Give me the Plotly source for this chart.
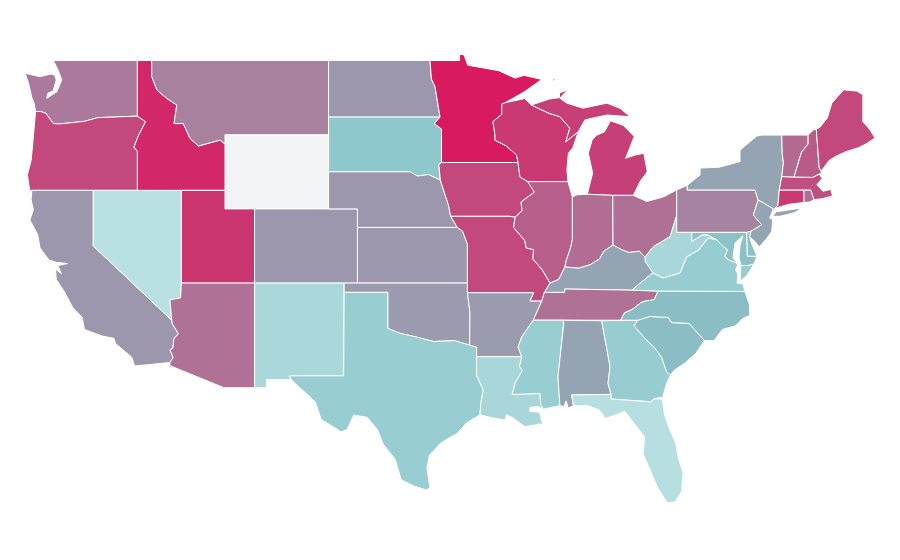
import plotly.graph_objects as go
from plotly.colors import sample_colorscale

# state outlines as (lon, lat) (no topojson available offline)
WA = [(-122.6, 49), (-122.28, 48.49), (-122.03, 47.95), (-122.35, 47.32), (-123.05, 46.96), (-122.95, 47.25), (-122.62, 47.35),
      (-122.4, 47.95), (-122.5, 48.2), (-122.75, 48.27), (-123.5, 48.13), (-124.51, 48.31), (-124.3, 47.85), (-124.05, 47.0),
      (-123.9, 46.7), (-123.8, 46.25), (-123.45, 46.25), (-123.1, 46.15), (-122.85, 45.85), (-122.6, 45.6), (-122.2, 45.58),
      (-121.2, 45.65), (-120.5, 45.72), (-119.6, 45.92), (-119.0, 45.93), (-116.92, 46.0), (-116.92, 49)]
OR = [(-123.8, 46.25), (-123.45, 46.25), (-123.1, 46.15), (-122.85, 45.85), (-122.6, 45.6), (-122.2, 45.58), (-121.2, 45.65),
      (-120.5, 45.72), (-119.6, 45.92), (-119.0, 45.93), (-116.92, 46.0), (-116.36, 45.7), (-116.85, 44.95), (-117.15, 44.33),
      (-116.92, 44.1), (-116.92, 42), (-119.9, 42), (-124.2, 42), (-124.35, 42.85), (-124.1, 43.6), (-123.97, 44.7), (-123.9, 45.6)]
CA = [(-124.05, 42), (-119.9, 42), (-119.9, 39), (-114.6, 35.0), (-114.55, 34.8), (-114.15, 34.27), (-114.45, 34.0),
      (-114.52, 33.5), (-114.72, 33.4), (-114.5, 33.0), (-114.72, 32.72), (-117.1, 32.53), (-117.3, 33.0), (-118.4, 33.75),
      (-118.5, 34.02), (-119.3, 34.15), (-120.5, 34.5), (-120.65, 35.15), (-121.3, 35.7), (-121.9, 36.6), (-122.4, 37.2),
      (-122.45, 37.75), (-122.05, 37.5), (-122.3, 37.95), (-121.65, 38.05), (-122.4, 38.12), (-122.9, 38.25), (-123.5, 38.9),
      (-123.65, 39.6), (-124.18, 40.4), (-123.95, 40.95), (-124.1, 41.5)]
NV = [(-119.9, 42), (-113.95, 42), (-113.95, 36.95), (-114.0, 36.2), (-114.72, 36.1), (-114.6, 35.0), (-119.9, 39)]
ID = [(-116.92, 49), (-115.95, 49), (-115.95, 48.13), (-115.6, 47.41), (-114.94, 46.96), (-114.26, 46.6), (-114.44, 45.6),
      (-113.82, 45.6), (-113.36, 44.8), (-112.8, 44.39), (-111.34, 44.71), (-111.0, 44.5), (-111.0, 42), (-116.92, 42),
      (-116.92, 44.1), (-117.15, 44.33), (-116.85, 44.95), (-116.36, 45.7), (-116.92, 46.0)]
MT = [(-115.95, 49), (-104.0, 49), (-104.0, 45), (-111.0, 45), (-111.0, 44.5), (-111.34, 44.71), (-112.8, 44.39),
      (-113.36, 44.8), (-113.82, 45.6), (-114.44, 45.6), (-114.26, 46.6), (-114.94, 46.96), (-115.6, 47.41), (-115.95, 48.13)]
WY = [(-111.0, 45), (-104.0, 45), (-104.0, 41), (-111.0, 41)]
UT = [(-113.95, 42), (-111.0, 42), (-111.0, 41), (-109.0, 41), (-109.0, 37), (-113.95, 37)]
AZ = [(-113.95, 37), (-109.0, 37), (-109.0, 31.36), (-111.07, 31.36), (-114.72, 32.55), (-114.72, 32.72), (-114.5, 33.0),
      (-114.72, 33.4), (-114.52, 33.5), (-114.45, 34.0), (-114.15, 34.27), (-114.55, 34.8), (-114.6, 35.0), (-114.72, 36.1),
      (-114.0, 36.2)]
CO = [(-109.0, 41), (-102.05, 41), (-102.05, 37), (-109.0, 37)]
NM = [(-109.0, 37), (-102.95, 37), (-102.98, 32), (-106.62, 32), (-106.53, 31.8), (-108.2, 31.8), (-108.2, 31.36), (-109.0, 31.36)]
ND = [(-104.0, 49), (-97.15, 49), (-97.05, 48), (-96.81, 47.6), (-96.55, 46.3), (-96.47, 45.95), (-104.0, 45.95)]
SD = [(-104.0, 45.95), (-96.47, 45.95), (-96.85, 45.6), (-96.37, 45.3), (-96.37, 43.5), (-96.55, 43.4), (-96.45, 42.55),
      (-97.25, 42.85), (-98.0, 42.77), (-98.5, 43), (-104.0, 43)]
NE = [(-104.0, 43), (-98.5, 43), (-98.0, 42.77), (-97.25, 42.85), (-96.45, 42.55), (-96.1, 41.7), (-95.9, 41.2), (-95.75, 40.6),
      (-95.3, 40), (-102.05, 40), (-102.05, 41), (-104.0, 41)]
KS = [(-102.05, 40), (-95.3, 40), (-94.95, 39.8), (-94.62, 39.1), (-94.62, 37), (-102.05, 37)]
OK = [(-102.95, 37), (-94.62, 37), (-94.62, 36.5), (-94.45, 35.4), (-94.47, 33.65), (-95.5, 33.9), (-96.9, 33.85),
      (-98.1, 34.1), (-99.2, 34.3), (-100, 34.56), (-100, 36.5), (-102.95, 36.5)]
TX = [(-102.95, 36.5), (-100, 36.5), (-100, 34.56), (-99.2, 34.3), (-98.1, 34.1), (-96.9, 33.85), (-95.5, 33.9), (-94.47, 33.65),
      (-94.0, 33.55), (-94.0, 32.03), (-93.55, 31.24), (-93.72, 30.5), (-93.77, 29.9), (-94.7, 29.45), (-95.3, 28.9),
      (-96.4, 28.4), (-97.2, 27.7), (-97.35, 27.0), (-97.15, 25.96), (-97.4, 25.85), (-98.2, 26.05), (-99.1, 26.4), (-99.5, 27.5),
      (-100.3, 28.3), (-100.7, 29.1), (-101.4, 29.77), (-102.3, 29.88), (-102.76, 29.1), (-103.15, 28.98), (-104.5, 29.65),
      (-104.9, 30.6), (-106.0, 31.4), (-106.53, 31.8), (-106.62, 32), (-102.98, 32)]
MN = [(-97.15, 49), (-95.15, 49), (-95.15, 49.35), (-94.85, 49.3), (-94.6, 48.75), (-93.5, 48.6), (-92.5, 48.45), (-91.4, 48.05),
      (-90.8, 48.2), (-89.6, 47.98), (-90.8, 47.3), (-92.08, 46.72), (-92.3, 46.65), (-92.3, 46.1), (-92.9, 45.7), (-92.76, 45.0),
      (-92.76, 44.7), (-92.0, 44.4), (-91.3, 43.9), (-91.2, 43.5), (-96.37, 43.5), (-96.37, 45.3), (-96.85, 45.6), (-96.47, 45.95),
      (-96.55, 46.3), (-96.81, 47.6), (-97.05, 48)]
IA = [(-96.37, 43.5), (-91.2, 43.5), (-91.07, 42.72), (-90.39, 42.4), (-90.1, 41.9), (-91.0, 41.37), (-90.93, 40.9), (-91.4, 40.55),
      (-91.75, 40.6), (-95.75, 40.6), (-95.9, 41.2), (-96.1, 41.7), (-96.45, 42.55), (-96.55, 43.4)]
MO = [(-95.75, 40.6), (-91.75, 40.6), (-91.4, 40.55), (-91.5, 40), (-90.75, 39.3), (-90.65, 38.9), (-90.15, 38.8), (-90.2, 38.3),
      (-89.55, 37.7), (-89.04, 37.0), (-89.42, 36.5), (-89.6, 36.03), (-90.4, 36.03), (-90.15, 36.48), (-94.62, 36.48), (-94.62, 39.1),
      (-94.95, 39.8), (-95.3, 40)]
AR = [(-94.62, 36.48), (-90.15, 36.48), (-90.4, 36.03), (-89.6, 36.03), (-90.17, 35.0), (-90.95, 34.1), (-91.2, 33.56), (-90.95, 33.03),
      (-94.0, 33.03), (-94.0, 33.55), (-94.47, 33.65), (-94.45, 35.4)]
LA = [(-94.0, 33.03), (-90.95, 33.03), (-91.1, 32.5), (-90.9, 32.3), (-91.4, 31.6), (-91.6, 31.0), (-89.72, 31.05), (-89.67, 30.5),
      (-89.5, 30.2), (-89.85, 30.35), (-90.4, 30.3), (-90.4, 30.08), (-89.85, 30.05), (-89.72, 29.99), (-89.6, 29.53), (-89.15, 29.08),
      (-89.5, 29.4), (-89.9, 29.4), (-90.05, 29.35), (-90.73, 29.26), (-91.54, 29.73), (-91.97, 29.9), (-92.08, 29.62), (-92.9, 29.73),
      (-93.77, 29.9), (-93.72, 30.5), (-93.55, 31.24), (-94.0, 32.03)]
WI = [(-92.08, 46.72), (-91.2, 46.85), (-90.75, 46.95), (-90.3, 46.6), (-89.1, 46.15), (-88.37, 45.97), (-87.7, 45.35), (-87.97, 44.62),
      (-87.13, 45.16), (-87.5, 44.3), (-87.8, 44), (-87.9, 43.1), (-87.83, 42.47), (-90.55, 42.47), (-90.39, 42.4), (-91.07, 42.72),
      (-91.2, 43.5), (-91.3, 43.9), (-92.0, 44.4), (-92.76, 44.7), (-92.76, 45.0), (-92.9, 45.7), (-92.3, 46.1), (-92.3, 46.65)]
IL = [(-90.55, 42.47), (-87.83, 42.47), (-87.6, 41.85), (-87.53, 41.65), (-87.53, 39.35), (-87.65, 38.9), (-87.95, 38.2), (-88.03, 37.87),
      (-88.45, 37.2), (-89.04, 37.0), (-89.55, 37.7), (-90.2, 38.3), (-90.15, 38.8), (-90.65, 38.9), (-90.75, 39.3), (-91.5, 40),
      (-91.4, 40.55), (-90.93, 40.9), (-91.0, 41.37), (-90.1, 41.9)]
MI_UP = [(-90.3, 46.6), (-89.1, 46.92), (-88.4, 47.0), (-88.4, 47.25), (-87.85, 47.42), (-88.37, 46.97), (-87.9, 46.7), (-86.8, 46.43),
         (-85.2, 46.7), (-84.3, 46.42), (-83.63, 45.97), (-85.2, 46.06), (-86.68, 45.8), (-87.13, 45.16), (-87.97, 44.62), (-87.7, 45.35),
         (-88.37, 45.97), (-89.1, 46.15)]
MI_LP = [(-84.95, 45.75), (-84.08, 45.5), (-83.35, 44.9), (-83.63, 44.35), (-83.93, 43.73), (-83.3, 43.9), (-82.7, 44.0), (-82.47, 43.0),
         (-82.96, 42.47), (-83.41, 41.73), (-84.8, 41.73), (-86.52, 41.79), (-86.16, 42.93), (-86.45, 44.0), (-86.2, 44.7), (-85.9, 44.97),
         (-85.37, 45.15)]
MI_IR = [(-89.05, 47.9), (-88.65, 48.05), (-88.75, 47.92)]
IN = [(-87.53, 41.65), (-87.2, 41.76), (-86.52, 41.79), (-84.8, 41.73), (-84.78, 39.05), (-85.4, 38.72), (-85.7, 38.3), (-86.3, 38.0),
      (-87.1, 37.8), (-88.03, 37.87), (-87.95, 38.2), (-87.65, 38.9), (-87.53, 39.35)]
OH = [(-84.8, 41.73), (-83.41, 41.73), (-82.5, 41.4), (-81.4, 41.64), (-80.48, 42.02), (-80.48, 40.63), (-80.65, 40.2), (-80.93, 39.5),
      (-82.07, 38.96), (-82.62, 38.4), (-83.0, 38.72), (-83.7, 38.65), (-84.2, 38.8), (-84.78, 39.05)]
KY = [(-89.42, 36.5), (-88.05, 36.5), (-88.05, 36.68), (-83.5, 36.62), (-82.95, 37.0), (-82.08, 37.55), (-82.6, 38.17), (-82.62, 38.4),
      (-83.0, 38.72), (-83.7, 38.65), (-84.2, 38.8), (-84.78, 39.05), (-85.4, 38.72), (-85.7, 38.3), (-86.3, 38.0), (-87.1, 37.8),
      (-88.03, 37.87), (-88.45, 37.2), (-89.04, 37.0)]
TN = [(-90.17, 35.0), (-84.27, 35.0), (-84.0, 35.4), (-83.5, 35.57), (-82.9, 35.95), (-82.6, 36.03), (-82.0, 36.1), (-81.74, 36.57),
      (-83.5, 36.62), (-88.05, 36.68), (-88.05, 36.5), (-89.42, 36.5), (-89.6, 36.03)]
MS = [(-90.17, 35.0), (-88.2, 35.0), (-88.1, 34.9), (-88.5, 31.95), (-88.37, 30.4), (-89.5, 30.2), (-89.67, 30.5), (-89.72, 31.05),
      (-91.6, 31.0), (-91.4, 31.6), (-90.9, 32.3), (-91.1, 32.5), (-90.95, 33.03), (-91.2, 33.56), (-90.95, 34.1)]
AL = [(-88.2, 35.0), (-85.55, 34.97), (-84.98, 32.5), (-85.12, 31.6), (-84.92, 31.0), (-87.58, 30.97), (-87.45, 30.4), (-87.8, 30.25),
      (-87.95, 30.65), (-88.1, 30.35), (-88.37, 30.4), (-88.5, 31.95), (-88.1, 34.9)]
GA = [(-85.55, 34.97), (-83.1, 35.0), (-83.35, 34.7), (-82.6, 34.0), (-81.95, 33.5), (-81.5, 33.0), (-81.15, 32.2), (-80.9, 32.05),
      (-81.2, 31.5), (-81.45, 30.75), (-81.56, 30.85), (-82.05, 30.75), (-82.2, 30.6), (-84.92, 30.75), (-84.92, 31.0), (-85.12, 31.6),
      (-84.98, 32.5)]
FL = [(-87.58, 30.97), (-84.92, 31.0), (-84.92, 30.75), (-82.2, 30.6), (-82.05, 30.75), (-81.45, 30.75), (-81.3, 29.9), (-80.9, 29.0),
      (-80.55, 28.4), (-80.35, 27.5), (-80.05, 26.8), (-80.15, 25.75), (-80.6, 25.2), (-81.1, 25.15), (-81.75, 25.95), (-82.15, 26.7),
      (-82.75, 27.8), (-82.65, 28.7), (-83.4, 29.5), (-84.0, 30.1), (-84.4, 29.95), (-85.3, 29.7), (-85.7, 30.15), (-86.5, 30.4), (-87.45, 30.4)]
SC = [(-83.35, 34.7), (-83.1, 35.0), (-82.3, 35.2), (-81.05, 35.15), (-80.82, 34.87), (-79.65, 34.83), (-78.6, 33.9), (-79.2, 33.2),
      (-79.9, 32.7), (-80.65, 32.3), (-80.9, 32.05), (-81.15, 32.2), (-81.5, 33.0), (-81.95, 33.5), (-82.6, 34.0)]
NC = [(-84.27, 35.0), (-83.1, 35.0), (-82.3, 35.2), (-81.05, 35.15), (-80.82, 34.87), (-79.65, 34.83), (-78.6, 33.9), (-77.95, 33.9),
      (-77.4, 34.5), (-76.5, 34.7), (-76.0, 35.1), (-75.55, 35.25), (-75.55, 35.8), (-75.87, 36.55), (-81.74, 36.57), (-82.0, 36.1),
      (-82.6, 36.03), (-82.9, 35.95), (-83.5, 35.57), (-84.0, 35.4)]
VA = [(-83.5, 36.62), (-81.74, 36.57), (-75.87, 36.55), (-76.0, 36.95), (-76.4, 37.0), (-76.35, 37.5), (-76.5, 37.7), (-76.35, 38.05), (-76.95, 38.25),
      (-77.22, 38.42), (-77.05, 38.8), (-77.5, 39.1), (-77.8, 39.35), (-78.36, 39.43), (-79.0, 38.78), (-79.8, 38.42), (-80.26, 37.54),
      (-81.4, 37.28), (-82.08, 37.55), (-82.95, 37.0)]
VA_ES = [(-75.25, 38.03), (-75.7, 37.95), (-76.14, 37.95), (-76.2, 37.1), (-75.75, 37.4)]
WV = [(-80.48, 40.63), (-80.48, 39.74), (-79.46, 39.74), (-79.46, 39.25), (-78.75, 39.6), (-78.4, 39.6), (-77.8, 39.35), (-78.36, 39.43),
      (-79.0, 38.78), (-79.8, 38.42), (-80.26, 37.54), (-81.4, 37.28), (-82.08, 37.55), (-82.6, 38.17), (-82.62, 38.4), (-82.07, 38.96),
      (-80.93, 39.5), (-80.65, 40.2)]
MD = [(-79.46, 39.74), (-75.75, 39.74), (-75.7, 38.45), (-75.05, 38.45), (-75.25, 38.03), (-75.7, 37.95), (-76.14, 37.95), (-76.27, 38.35),
      (-76.2, 39.05), (-76.0, 39.55), (-76.54, 39.16), (-76.6, 38.68), (-76.68, 38.35), (-76.35, 38.05), (-76.95, 38.25), (-77.22, 38.42),
      (-77.05, 38.8), (-77.5, 39.1), (-77.8, 39.35), (-78.4, 39.6), (-78.75, 39.6), (-79.46, 39.25)]
DE = [(-75.75, 39.74), (-75.45, 39.8), (-75.55, 39.5), (-75.4, 39.1), (-75.05, 38.45), (-75.7, 38.45)]
PA = [(-80.48, 42.02), (-79.77, 42.27), (-79.77, 42.02), (-75.19, 42.02), (-74.98, 41.47), (-75.3, 40.67), (-74.74, 40.14), (-75.45, 39.8),
      (-75.75, 39.74), (-80.48, 39.74)]
NY = [(-79.77, 42.02), (-79.77, 42.27), (-78.9, 42.83), (-78.9, 43.2), (-77.6, 43.25), (-76.2, 43.55), (-76.2, 44.17), (-75.07, 44.93),
      (-74.7, 44.98), (-73.38, 44.98), (-73.35, 44.0), (-73.27, 43.47), (-73.38, 42.74), (-73.55, 42.02), (-73.64, 41.2), (-73.84, 41.03),
      (-74.0, 40.8), (-73.95, 41.0), (-74.7, 41.36), (-74.98, 41.47), (-75.19, 42.02)]
NY_LI = [(-74.0, 40.6), (-73.75, 40.85), (-72.6, 40.98), (-72.03, 41.05), (-72.5, 40.8), (-73.5, 40.6)]
NJ = [(-74.7, 41.36), (-73.95, 41.0), (-74.2, 40.5), (-74.0, 40.45), (-74.05, 39.8), (-74.4, 39.4), (-74.9, 38.95), (-75.2, 39.25),
      (-75.55, 39.5), (-75.45, 39.8), (-74.74, 40.14), (-75.3, 40.67), (-74.98, 41.47)]
CT = [(-73.55, 42.02), (-71.88, 42.02), (-71.88, 41.35), (-72.9, 41.25), (-73.84, 41.03), (-73.64, 41.2)]
RI = [(-71.88, 42.02), (-71.42, 42.02), (-71.2, 41.5), (-71.5, 41.37), (-71.88, 41.35)]
MA = [(-73.55, 42.02), (-73.38, 42.74), (-72.55, 42.72), (-71.3, 42.7), (-70.85, 42.87), (-70.65, 42.65), (-71.0, 42.3), (-70.6, 41.95),
      (-70.07, 42.05), (-69.95, 41.7), (-70.65, 41.55), (-71.2, 41.5), (-71.42, 42.02), (-71.88, 42.02)]
VT = [(-73.38, 44.98), (-71.6, 44.98), (-71.6, 44.5), (-72.05, 44.05), (-72.3, 43.4), (-72.55, 42.72), (-73.38, 42.74), (-73.27, 43.47), (-73.35, 44.0)]
NH = [(-71.6, 44.98), (-71.25, 45.25), (-71.05, 45.3), (-70.85, 43.2), (-70.68, 42.95), (-70.85, 42.87), (-71.3, 42.7), (-72.55, 42.72),
      (-72.3, 43.4), (-72.05, 44.05), (-71.6, 44.5)]
ME = [(-71.05, 45.3), (-70.85, 43.2), (-70.68, 43.07), (-70.2, 43.6), (-69.7, 43.85), (-69.0, 44.1), (-68.2, 44.3), (-67.7, 44.5),
      (-67.08, 44.82), (-67.45, 45.3), (-67.9, 45.7), (-67.9, 47.15), (-68.3, 47.35), (-69.2, 47.42), (-70.0, 46.7), (-70.3, 45.9), (-70.8, 45.4)]

state_names = ["WA", "OR", "CA", "NV", "ID", "MT", "UT", "AZ", "CO", "NM", "ND", "SD", "NE", "KS", "OK", "TX",
               "MN", "IA", "MO", "AR", "LA", "WI", "IL", "MI", "IN", "OH", "KY", "TN", "MS", "AL", "GA", "FL", "SC", "NC",
               "VA", "WV", "MD", "DE", "PA", "NY", "NJ", "CT", "RI", "MA", "VT", "NH", "ME"]
state_values = [0.38, 0.18, 0.50, 1.00, 0.05, 0.41, 0.11, 0.35, 0.50, 0.91, 0.50, 0.75, 0.50, 0.50, 0.53, 0.81,
                0.00, 0.18, 0.18, 0.53, 0.90, 0.12, 0.27, 0.15, 0.33, 0.34, 0.60, 0.35, 0.81, 0.60, 0.80, 0.99, 0.70, 0.70,
                0.80, 0.90, 0.72, 0.72, 0.42, 0.60, 0.60, 0.12, 0.33, 0.21, 0.32, 0.26, 0.18]
state_shapes = [[WA], [OR], [CA], [NV], [ID], [MT], [UT], [AZ], [CO], [NM], [ND], [SD], [NE], [KS], [OK], [TX],
                [MN], [IA], [MO], [AR], [LA], [WI], [IL], [MI_UP, MI_LP, MI_IR], [IN], [OH], [KY], [TN], [MS], [AL], [GA], [FL], [SC], [NC],
                [VA, VA_ES], [WV], [MD], [DE], [PA], [NY, NY_LI], [NJ], [CT], [RI], [MA], [VT], [NH], [ME]]

scale = [[0, "#d81b60"], [0.5, "#9d97ad"], [0.6, "#95a4b3"], [0.7, "#8abdc4"], [0.75, "#8ec8cc"], [1, "#b9e0e2"]]


def add_state(fig, name, parts, color):
    xs, ys = [], []
    for part in parts:
        xs += [p[0] for p in part] + [part[0][0], None]
        ys += [p[1] for p in part] + [part[0][1], None]
    fig.add_trace(go.Scatter(x=xs, y=ys, name=name, mode="lines", fill="toself", fillcolor=color,
                             line=dict(color="white", width=1), hoverinfo="name", showlegend=False))


fig = go.Figure()
add_state(fig, "WY", [WY], "#f2f3f5")  # no data
for name, parts, val in zip(state_names, state_shapes, state_values):
    add_state(fig, name, parts, sample_colorscale(scale, [val], colortype="rgb")[0])

# plain lon/lat scale, the reference is equirectangular (page body has an 8px margin)
fig.update_xaxes(range=[-125.662, -65.932], visible=False, fixedrange=True)
fig.update_yaxes(range=[22.504, 51.83], visible=False, fixedrange=True)
fig.update_layout(margin=dict(l=0, r=0, t=0, b=0), paper_bgcolor="white", plot_bgcolor="white")
fig.write_html("out.html")
